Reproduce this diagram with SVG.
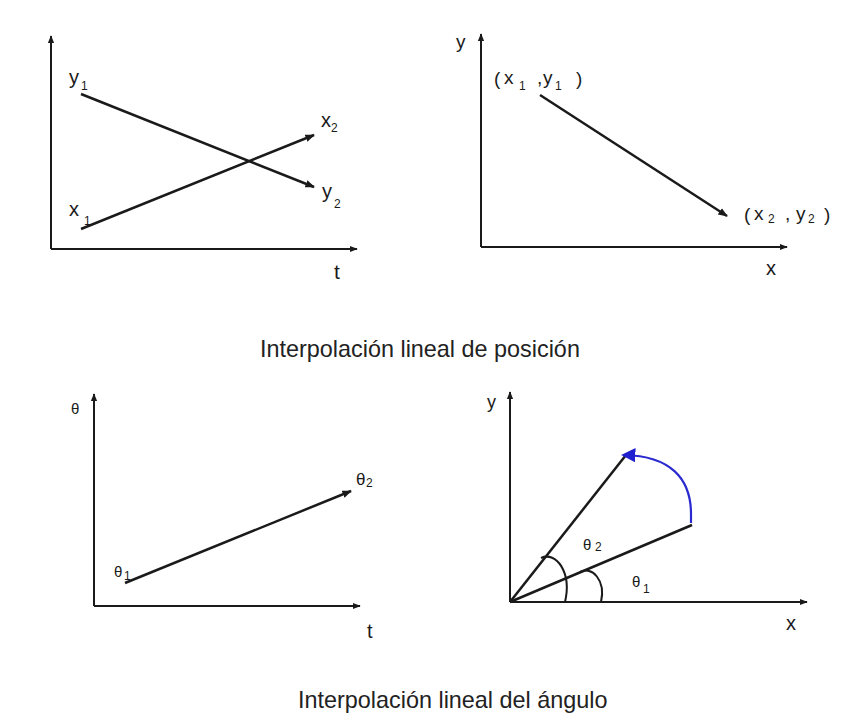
<svg xmlns="http://www.w3.org/2000/svg" width="847" height="726" viewBox="0 0 847 726">
<style>
.ax{stroke:#1a1a1a;stroke-width:2;fill:none}
.ln{stroke:#1a1a1a;stroke-width:2.5;fill:none}
.lb{font-family:"Liberation Sans",Arial,sans-serif;fill:#1a1a1a}
.sb{font-family:"Liberation Sans",Arial,sans-serif;fill:#1a1a1a;font-size:12px}
.tt{font-family:"Liberation Sans",Arial,sans-serif;fill:#222;font-size:23.4px}
</style>
<defs>
<marker id="ah" viewBox="0 0 10 10" refX="9" refY="5" markerWidth="4" markerHeight="4" orient="auto"><path d="M0,1 L10,5 L0,9 Z" fill="#1a1a1a"/></marker>
<marker id="dh" viewBox="0 0 10 10" refX="9" refY="5" markerWidth="3.8" markerHeight="3.8" orient="auto"><path d="M0,1 L10,5 L0,9 Z" fill="#1a1a1a"/></marker>
<marker id="bh" viewBox="0 0 10 10" refX="8" refY="5" markerWidth="6.5" markerHeight="6.5" orient="auto"><path d="M0,0 L10,5 L0,10 Z" fill="#2020d0"/></marker>
</defs>
<rect width="847" height="726" fill="#fff"/>

<g id="axes">
<path class="ax" d="M51,249 L51,36" marker-end="url(#ah)"/>
<path class="ax" d="M51,249 L357,249" marker-end="url(#ah)"/>
<path class="ax" d="M481,247 L481,34" marker-end="url(#ah)"/>
<path class="ax" d="M481,247 L787,247" marker-end="url(#ah)"/>
<path class="ax" d="M94,606 L94,394" marker-end="url(#ah)"/>
<path class="ax" d="M94,606 L360,606" marker-end="url(#ah)"/>
<path class="ax" d="M510,602 L510,392" marker-end="url(#ah)"/>
<path class="ax" d="M510,602 L807,602" marker-end="url(#ah)"/>
</g>

<g id="connectors">
<path class="ln" d="M81,94 L314,187" marker-end="url(#dh)"/>
<path class="ln" d="M81,229 L314,135" marker-end="url(#dh)"/>
<path class="ln" d="M540,95 L727,216" marker-end="url(#dh)"/>
<path class="ln" d="M125,583 L351,491" marker-end="url(#dh)"/>
<path class="ln" d="M510,602 L626,455"/>
<path class="ln" d="M510,602 L692,525"/>
<path d="M691,523 L691,514 C691,478 670,456 624,455" fill="none" stroke="#2a2ad0" stroke-width="2.2" marker-end="url(#bh)"/>
<path class="ax" d="M580,572 C592,566 606,580 601,602"/>
<path class="ax" d="M541,558 C556,551 572,572 565,602"/>
</g>

<g id="labels-top-left">
<text class="lb" x="69" y="84" font-size="20">y</text><text class="sb" x="81" y="90">1</text>
<text class="lb" x="321" y="127" font-size="20">x</text><text class="sb" x="331" y="132">2</text>
<text class="lb" x="322" y="198" font-size="20">y</text><text class="sb" x="334" y="208">2</text>
<text class="lb" x="69" y="216" font-size="20">x</text><text class="sb" x="84" y="225">1</text>
<text class="lb" x="334" y="279" font-size="21">t</text>
</g>

<g id="labels-top-right">
<text class="lb" x="456" y="48" font-size="19">y</text>
<text class="lb" x="494" y="85" font-size="19">(</text>
<text class="lb" x="504" y="84" font-size="19">x</text><text class="sb" x="519" y="90">1</text>
<text class="lb" x="537" y="84" font-size="19">,</text>
<text class="lb" x="543" y="84" font-size="19">y</text><text class="sb" x="555" y="90">1</text>
<text class="lb" x="576" y="85" font-size="19">)</text>
<text class="lb" x="744" y="221" font-size="19">(</text>
<text class="lb" x="754" y="220" font-size="19">x</text><text class="sb" x="768" y="223">2</text>
<text class="lb" x="785" y="220" font-size="19">,</text>
<text class="lb" x="796" y="220" font-size="19">y</text><text class="sb" x="808" y="223">2</text>
<text class="lb" x="824" y="221" font-size="19">)</text>
<text class="lb" x="766" y="275" font-size="20">x</text>
</g>

<g id="title-1">
<text class="tt" x="260" y="357">Interpolación lineal de posición</text>
</g>

<g id="labels-bottom-left">
<text class="lb" x="71" y="414" font-size="15">θ</text>
<text class="lb" x="114" y="577" font-size="15">θ</text><text class="sb" x="124" y="580">1</text>
<text class="lb" x="356" y="485" font-size="17">θ</text><text class="sb" x="366" y="487" font-size="14">2</text>
<text class="lb" x="367" y="638" font-size="20">t</text>
</g>

<g id="labels-bottom-right">
<text class="lb" x="487" y="408" font-size="18">y</text>
<text class="lb" x="583" y="550" font-size="15">θ</text><text class="sb" x="595" y="551" font-size="13">2</text>
<text class="lb" x="632" y="587" font-size="15">θ</text><text class="sb" x="643" y="593">1</text>
<text class="lb" x="786" y="630" font-size="20">x</text>
</g>

<g id="title-2">
<text class="tt" x="298" y="708">Interpolación lineal del ángulo</text>
</g>
</svg>
